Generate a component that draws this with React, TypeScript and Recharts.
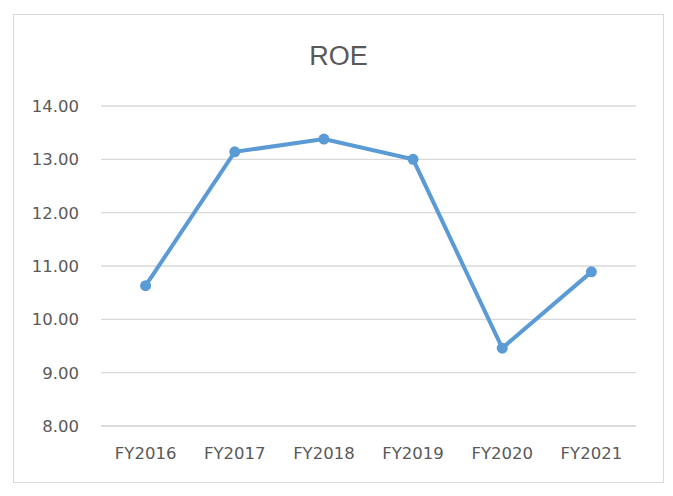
import { LineChart, Line, XAxis, YAxis, CartesianGrid } from "recharts";

const years = ["FY2016", "FY2017", "FY2018", "FY2019", "FY2020", "FY2021"];
const roe = [10.63, 13.14, 13.38, 13.0, 9.46, 10.89];
const yTicks = [8, 9, 10, 11, 12, 13, 14];

const data = years.map((year, i) => ({ year, roe: roe[i] }));

const TEXT = "#595959";
const GRID = "#d9d9d9";
const BLUE = "#5B9BD5";

function App() {
  return (
    <div
      style={{
        position: "absolute",
        left: 13,
        top: 14,
        width: 651,
        height: 469,
        boxSizing: "border-box",
        border: `1px solid ${GRID}`,
        background: "#fff",
        fontFamily: "'DejaVu Sans', sans-serif",
      }}
    >
      <div
        style={{
          position: "absolute",
          left: 0,
          right: 0,
          top: 25,
          textAlign: "center",
          fontSize: 27,
          lineHeight: "32px",
          color: TEXT,
          fontFamily: "'Liberation Sans', sans-serif",
        }}
      >
        ROE
      </div>
      <LineChart
        width={649}
        height={467}
        data={data}
        margin={{ top: 91, right: 27, bottom: 26, left: 0 }}
      >
        <CartesianGrid vertical={false} stroke={GRID} strokeWidth={1.3} />
        <XAxis
          dataKey="year"
          height={30}
          axisLine={{ stroke: GRID, strokeWidth: 1.3 }}
          tickLine={false}
          tickSize={0}
          tickMargin={21}
          padding={{ left: 44.6, right: 44.6 }}
          tick={{ fill: TEXT, fontSize: 16.5 }}
        />
        <YAxis
          width={87}
          domain={[8, 14]}
          ticks={yTicks}
          axisLine={false}
          tickLine={false}
          tickSize={0}
          tickMargin={22}
          tickFormatter={(v: number) => v.toFixed(2)}
          tick={{ fill: TEXT, fontSize: 16.5 }}
        />
        <Line
          type="linear"
          dataKey="roe"
          stroke={BLUE}
          strokeWidth={4}
          dot={{ r: 5.5, fill: BLUE, stroke: BLUE, strokeWidth: 0 }}
          isAnimationActive={false}
        />
      </LineChart>
    </div>
  );
}

export default App;
